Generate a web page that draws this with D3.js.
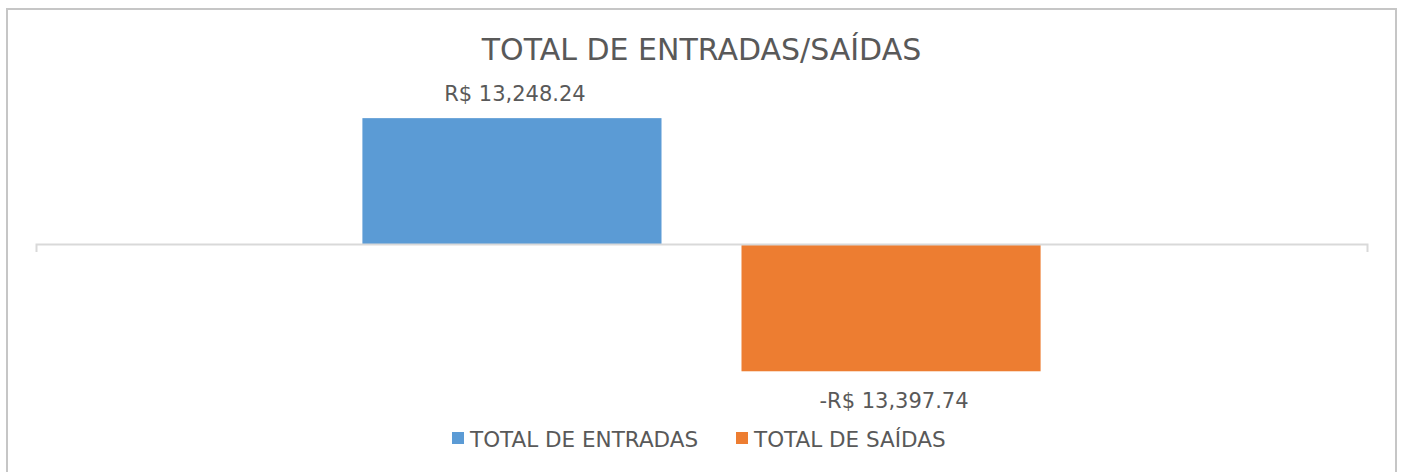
<!DOCTYPE html>
<html>
<head>
<meta charset="utf-8">
<script src="https://cdn.jsdelivr.net/npm/d3@7"></script>
<style>
  body { margin: 0; background: #fff; }
  #chart { width: 1403px; height: 472px; }
  text { font-family: "Century Gothic", "DejaVu Sans", sans-serif; fill: #595959; }
</style>
</head>
<body>
<div id="chart"></div>
<script>
const title = "TOTAL DE ENTRADAS/SAÍDAS"
const categories = [""]
const seriesNames = ["TOTAL DE ENTRADAS", "TOTAL DE SAÍDAS"]
const seriesValues = [13248.24, -13397.74]
const seriesColors = ["#5b9bd5", "#ed7d31"]
const yDomain = [-15000, 15000]

const width = 1403
const height = 472
const plot = { left: 36, right: 1367, top: 101.5, bottom: 386.5 }

const svg = d3.select("#chart").append("svg")
  .attr("width", width)
  .attr("height", height)

// chart border
svg.append("rect")
  .attr("x", 7).attr("y", 9)
  .attr("width", width - 14).attr("height", height + 20)
  .attr("fill", "#fff")
  .attr("stroke", "#c6c6c6")
  .attr("stroke-width", 2)

svg.append("text")
  .attr("x", width / 2)
  .attr("y", 60)
  .attr("text-anchor", "middle")
  .style("font-size", "30px")
  .text(title)

const xCat = d3.scaleBand()
  .domain(categories)
  .range([plot.left, plot.right])

const xSeries = d3.scaleBand()
  .domain(seriesNames)
  .range([0, xCat.bandwidth()])
  .paddingInner(0.211)
  .paddingOuter(0.861)

const y = d3.scaleLinear()
  .domain(yDomain)
  .range([plot.bottom, plot.top])

const rows = seriesNames.map((s, i) => ({ cat: categories[0], name: s, value: seriesValues[i], color: seriesColors[i] }))

svg.append("g").classed("bars", true)
  .selectAll("rect")
  .data(rows)
  .join("rect")
  .attr("x", d => xCat(d.cat) + xSeries(d.name))
  .attr("width", xSeries.bandwidth())
  .attr("y", d => y(Math.max(0, d.value)))
  .attr("height", d => Math.abs(y(d.value) - y(0)))
  .attr("fill", d => d.color)

// zero axis with end ticks
const axisX = svg.append("g").classed("axis x", true)
  .attr("transform", `translate(0,${y(0)})`)
  .call(d3.axisBottom(xCat).tickSizeInner(0).tickSizeOuter(8).tickFormat(""))
axisX.select(".domain").attr("stroke", "#d9d9d9").attr("stroke-width", 2)
axisX.selectAll(".tick line").remove()

const fmt = v => (v < 0 ? "-" : "") + "R$ " + d3.format(",.2f")(Math.abs(v))

svg.append("g").classed("labels", true)
  .selectAll("text")
  .data(rows)
  .join("text")
  .attr("x", d => xCat(d.cat) + xSeries(d.name) + xSeries.bandwidth() / 2 + 3)
  .attr("y", d => d.value >= 0 ? y(d.value) - 17 : y(d.value) + 37)
  .attr("text-anchor", "middle")
  .style("font-size", "21px")
  .text(d => fmt(d.value))

// legend
const legend = svg.append("g").classed("legend", true)
const legendX = [452, 736]
const item = legend.selectAll("g")
  .data(rows)
  .join("g")
  .attr("transform", (d, i) => `translate(${legendX[i]},432)`)
item.append("rect")
  .attr("width", 12).attr("height", 12)
  .attr("fill", d => d.color)
item.append("text")
  .attr("x", 18)
  .attr("y", 15)
  .style("font-size", "21.5px")
  .text(d => d.name)
</script>
</body>
</html>
